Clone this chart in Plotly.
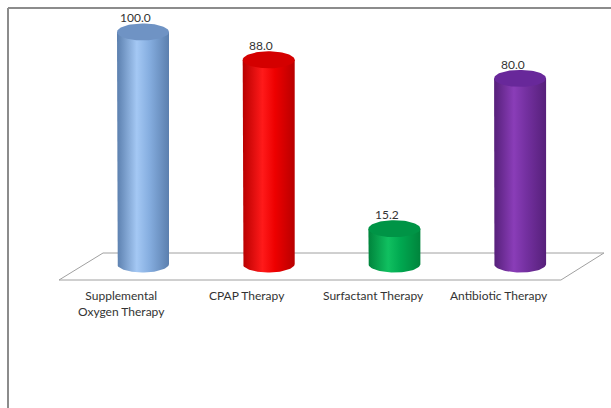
import numpy as np
import plotly.graph_objects as go

# Chart data
categories = ["Supplemental<br>Oxygen Therapy", "CPAP Therapy", "Surfactant Therapy", "Antibiotic Therapy"]
values = [100.0, 88.0, 15.2, 80.0]

# Cylinder shading: (edge, highlight, mid, top-cap)
edge_colors = ["#5b7fae", "#b80000", "#00843c", "#56207a"]
light_colors = ["#a4c8f4", "#ff1a1a", "#10c060", "#8a3db8"]
mid_colors = ["#86aee0", "#ee0000", "#00a850", "#7430a0"]
cap_colors = ["#6f93c4", "#d40000", "#009446", "#68289a"]

W, H = 611, 408
# axis scaling: one x unit per category slot, y in percent
X_RANGE = [-1.1376, 3.7232]
Y_RANGE = [-62.07, 113.79]

px_per_x = W / (X_RANGE[1] - X_RANGE[0])
px_per_y = H / (Y_RANGE[1] - Y_RANGE[0])
rx = 26 / px_per_x      # cylinder radius
ry = 8.5 / px_per_y     # ellipse half-height

fig = go.Figure()

t_half = np.linspace(np.pi, 2 * np.pi, 40)
t_full = np.linspace(0, 2 * np.pi, 80)

for i, v in enumerate(values):
    # body: left side, bottom half-ellipse, right side
    bx = [i - rx] + list(i + rx * np.cos(t_half)) + [i + rx, i - rx]
    by = [v] + list(ry * np.sin(t_half)) + [v, v]
    fig.add_trace(go.Scatter(
        x=bx, y=by, mode="lines", fill="toself",
        line=dict(width=0, color=edge_colors[i]),
        fillgradient=dict(type="horizontal", colorscale=[
            [0, edge_colors[i]], [0.38, light_colors[i]],
            [0.62, mid_colors[i]], [1, edge_colors[i]]]),
        hoverinfo="skip", showlegend=False))
    # top cap
    fig.add_trace(go.Scatter(
        x=list(i + rx * np.cos(t_full)), y=list(v + ry * np.sin(t_full)),
        mode="lines", fill="toself",
        line=dict(width=0, color=cap_colors[i]),
        fillcolor=cap_colors[i],
        hoverinfo="skip", showlegend=False))

annotations = []
for i, v in enumerate(values):
    annotations.append(dict(
        x=i - 0.06, y=v + ry, xref="x", yref="y", text=f"{v:.1f}",
        showarrow=False, yanchor="bottom", yshift=-4,
        font=dict(family="Lato", size=12, color="#333333")))
    annotations.append(dict(
        x=i - 0.17, y=-9.4, xref="x", yref="y", text=categories[i],
        showarrow=False, yanchor="top", align="center",
        font=dict(family="Lato", size=12, color="#333333")))

# floor plane (front edge at y=-6.9, back edge at y=4.74)
floor_path = "M -0.668 -6.9 L 3.325 -6.9 L 3.667 4.74 L -0.318 4.74 Z"

shapes = [
    dict(type="path", path=floor_path, xref="x", yref="y",
         line=dict(color="#a0a0a0", width=1), fillcolor="rgba(0,0,0,0)", layer="below"),
    dict(type="line", xref="paper", yref="paper", x0=8 / W, x1=1, y0=1 - 8 / H, y1=1 - 8 / H,
         line=dict(color="#8c8c8c", width=2)),
    dict(type="line", xref="paper", yref="paper", x0=8 / W, x1=8 / W, y0=0, y1=1 - 8 / H,
         line=dict(color="#8c8c8c", width=2)),
]

fig.update_layout(
    width=W, height=H,
    margin=dict(l=0, r=0, t=0, b=0),
    paper_bgcolor="white", plot_bgcolor="white",
    xaxis=dict(range=X_RANGE, visible=False, fixedrange=True),
    yaxis=dict(range=Y_RANGE, visible=False, fixedrange=True),
    shapes=shapes, annotations=annotations,
)

fig.write_html("out.html")
